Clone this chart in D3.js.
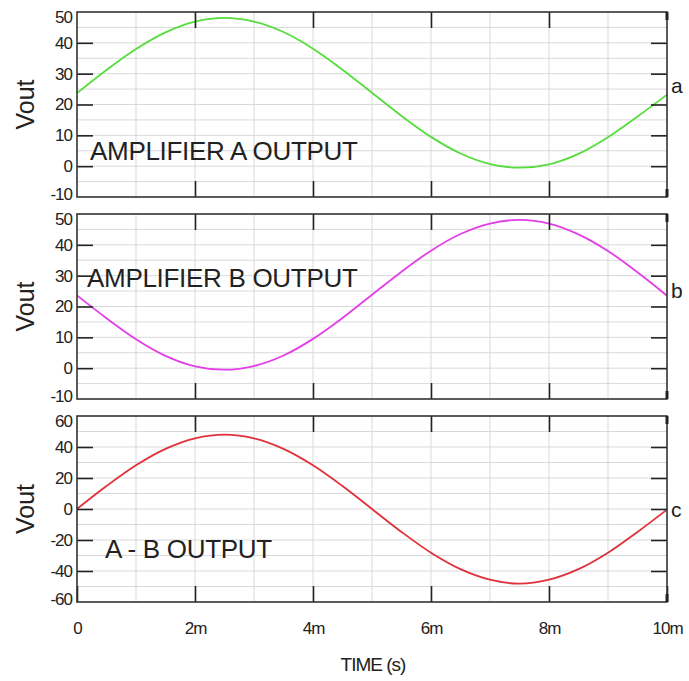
<!DOCTYPE html>
<html>
<head>
<meta charset="utf-8">
<script src="https://cdn.jsdelivr.net/npm/d3@7"></script>
<style>
  body { margin: 0; background: #fff; }
  text { font-family: "Liberation Sans", Arial, sans-serif; fill: #222; }
</style>
</head>
<body>
<svg id="chart" width="689" height="681"></svg>
<script>
// time in ms
var timeMs = [0,0.5,1,1.5,2,2.5,3,3.5,4,4.5,5,5.5,6,6.5,7,7.5,8,8.5,9,9.5,10];

// values
var ampA = [23.7,31.2,38.0,43.4,46.9,48.1,46.9,43.5,38.1,31.3,23.8,16.3,9.5,4.1,0.7,-0.5,0.6,4.0,9.4,16.1,23.2];
var ampB = [23.6,16.2,9.4,4.0,0.6,-0.5,0.7,4.1,9.5,16.3,23.8,31.3,38.1,43.5,46.9,48.1,46.9,43.4,38.0,31.1,23.5];
var diffAB = [0,14.8,28.2,38.8,45.6,48.0,45.6,38.8,28.2,14.8,0,-14.8,-28.2,-38.8,-45.6,-48.2,-45.6,-38.8,-28.2,-14.8,-0.4];

var xTickVals = [0,2,4,6,8,10];
var xTickLabels = ["0","2m","4m","6m","8m","10m"];
var yTicksAB = [-10,0,10,20,30,40,50];
var yTicksDiff = [-60,-40,-20,0,20,40,60];

var titles = ["AMPLIFIER A OUTPUT","AMPLIFIER B OUTPUT","A - B OUTPUT"];
var endLabels = ["a","b","c"];

var svg = d3.select("#chart");

var left = 77, right = 667;

//パネル設定
var panels = [
  {data: ampA, ticks: yTicksAB, grid: 5, top: 12, bottom: 197, color: "#55dd3c", title: titles[0], tx: 90, ty: 160, lab: endLabels[0], ly: 93},
  {data: ampB, ticks: yTicksAB, grid: 5, top: 214, bottom: 399, color: "#e23fe6", title: titles[1], tx: 87, ty: 287, lab: endLabels[1], ly: 298},
  {data: diffAB, ticks: yTicksDiff, grid: 10, top: 416, bottom: 602, color: "#e0303a", title: titles[2], tx: 105, ty: 558, lab: endLabels[2], ly: 517}
];

var x = d3.scaleLinear().domain([0,10]).range([left,right]);

panels.forEach(function(p, idx){
  var ymin = d3.min(p.ticks), ymax = d3.max(p.ticks);
  var y = d3.scaleLinear().domain([ymin,ymax]).range([p.bottom,p.top]);
  var g = svg.append("g");

  // grid
  var gx = d3.range(1,10);
  g.selectAll(".vg").data(gx).enter().append("line")
    .attr("x1", function(d){ return x(d); }).attr("x2", function(d){ return x(d); })
    .attr("y1", p.top).attr("y2", p.bottom)
    .attr("stroke", "#d9d9d9").attr("stroke-width", 1);
  var gy = d3.range(ymin + p.grid, ymax, p.grid);
  g.selectAll(".hg").data(gy).enter().append("line")
    .attr("x1", left).attr("x2", right)
    .attr("y1", function(d){ return y(d); }).attr("y2", function(d){ return y(d); })
    .attr("stroke", "#d9d9d9").attr("stroke-width", 1);

  // curve
  var line = d3.line()
    .x(function(d,i){ return x(timeMs[i]); })
    .y(function(d){ return y(d); })
    .curve(d3.curveCatmullRom);
  g.append("path").datum(p.data)
    .attr("d", line)
    .attr("fill", "none")
    .attr("stroke", p.color)
    .attr("stroke-width", 1.8);

  // axes
  var yl = g.append("g").attr("transform", "translate(" + left + ",0)")
    .call(d3.axisLeft(y).tickValues(p.ticks).tickSize(-16).tickPadding(5).tickFormat(function(d){ return String(d); }));
  var yr = g.append("g").attr("transform", "translate(" + right + ",0)")
    .call(d3.axisRight(y).tickValues(p.ticks.slice(1,-1)).tickSize(-16).tickFormat(""));
  var xt = g.append("g").attr("transform", "translate(0," + p.top + ")")
    .call(d3.axisTop(x).tickValues([2,4,6,8]).tickSize(-16).tickFormat(""));
  var xb = g.append("g").attr("transform", "translate(0," + p.bottom + ")")
    .call(d3.axisBottom(x).tickValues(idx == 2 ? xTickVals : [2,4,6,8]).tickSize(-16).tickPadding(20)
      .tickFormat(function(d,i){ return idx == 2 ? xTickLabels[xTickVals.indexOf(d)] : ""; }));

  [yl,yr,xt,xb].forEach(function(a){
    a.select(".domain").remove();
    a.selectAll("line").attr("stroke", "#222").attr("stroke-width", 1.6);
    a.selectAll("text").style("font-size", "17px").style("letter-spacing", "-1px").attr("fill", "#222");
  });
  yl.selectAll("line").filter(function(d){ return d == ymin || d == ymax; }).remove();
  // 端のラベルは内側へずらす
  yl.selectAll("text").filter(function(d){ return d == ymax; }).attr("y", 5);
  yl.selectAll("text").filter(function(d){ return d == ymin; }).attr("y", -3);

  //枠
  g.append("rect")
    .attr("x", left).attr("y", p.top)
    .attr("width", right - left).attr("height", p.bottom - p.top)
    .attr("fill", "none").attr("stroke", "#333").attr("stroke-width", 1.6);
  g.append("line").attr("x1", right).attr("x2", right).attr("y1", p.top).attr("y2", p.top + 8)
    .attr("stroke", "#222").attr("stroke-width", 3);
  g.append("line").attr("x1", right).attr("x2", right).attr("y1", p.bottom - 8).attr("y2", p.bottom)
    .attr("stroke", "#222").attr("stroke-width", 3);

  // labels
  g.append("text")
    .attr("transform", "translate(34," + ((p.top + p.bottom)/2) + ") rotate(-90)")
    .attr("text-anchor", "middle")
    .style("font-size", "25px")
    .text("Vout");
  g.append("text")
    .attr("x", p.tx).attr("y", p.ty)
    .style("font-size", "26px")
    .style("letter-spacing", "-0.3px")
    .text(p.title);
  g.append("text")
    .attr("x", right + 4).attr("y", p.ly)
    .style("font-size", "21px")
    .text(p.lab);
});

svg.append("text")
  .attr("x", 373).attr("y", 671)
  .attr("text-anchor", "middle")
  .style("font-size", "19px")
  .style("letter-spacing", "-1px")
  .text("TIME (s)");
</script>
</body>
</html>
